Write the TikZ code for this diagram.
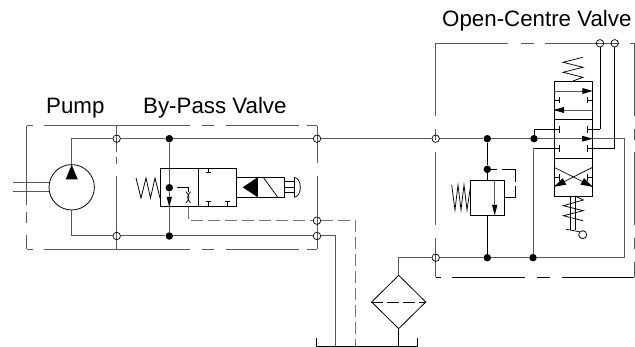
\documentclass[tikz,border=0pt]{standalone}
\usepackage{fontspec}
\setmainfont{Liberation Sans}
\usetikzlibrary{calc}
\usetikzlibrary{shapes.geometric}
\tikzset{
  mainline/.style={draw=black!65, line width=1pt},
  thinline/.style={draw=black, line width=.75pt},
  boxline/.style={draw=black!65, line width=.85pt},
  pilot/.style={draw=black!55, line width=1pt},
  juncdot/.style={circle, fill=black, inner sep=0pt, minimum size=7.5pt},
  portring/.style={circle, draw=black, line width=.7pt, inner sep=0pt, minimum size=7.5pt},
  title/.style={font=\fontsize{22.3}{25}\selectfont, inner sep=0pt, anchor=base west}
}
\newcommand{\sealport}[2]{\draw[thinline] (#1)--++(#2) ++(0,-3.3)--++(0,6.6);}
\newcommand{\sealportv}[2]{\draw[thinline] (#1)--++(#2) ++(-2.7,0)--++(5.4,0);}
\begin{document}
\begin{tikzpicture}[x=1pt,y=-1pt]
\useasboundingbox (0,0) rectangle (635,347);

\coordinate (PC) at (71.7,187.3);
\coordinate (T1) at (71.7,138.7);
\coordinate (T2) at (71.7,236);
\coordinate (R1) at (624.3,138.7);
\coordinate (R2) at (624.3,257.7);
\coordinate (F1) at (398.7,257.7);
\coordinate (FT) at (398.7,346);
\coordinate (D1) at (335.7,236);
\coordinate (D2) at (335.7,346);
\coordinate (P1) at (188.3,206.7);
\coordinate (P2) at (188.3,220.7);
\coordinate (P3) at (355.7,220.7);
\coordinate (P4) at (355.7,346);

% dashed outlines
\foreach \xa/\xb in {27/33,44/190,202/214,226/299,307/317}{
  \draw[boxline] (\xa,125.7)--(\xb,125.7);
  \draw[boxline] (\xa,249)--(\xb,249);
}
\foreach \ya/\yb in {125.7/205,212/223,235/249}
  \draw[boxline] (26.7,\ya)--(26.7,\yb);
\foreach \ya/\yb in {125.7/152,157/164,176/249}
  \draw[boxline] (116.7,\ya)--(116.7,\yb);
\foreach \ya/\yb in {125.7/163,176/249}
  \draw[boxline] (317,\ya)--(317,\yb);
\foreach \ya/\yb in {43.3/116,129/140,152/225,238/277}
  \draw[boxline] (435.7,\ya)--(435.7,\yb);
\foreach \ya/\yb in {43.3/116,129/140,152/225,238/249,262/277}
  \draw[boxline] (634.3,\ya)--(634.3,\yb);
\foreach \xa/\xb in {435.7/508,521/534,545/619,630/634}
  \draw[boxline] (\xa,43.3)--(\xb,43.3);
\foreach \xa/\xb in {435.7/441,452/525,537/550,562/634}
  \draw[thinline] (\xa,277)--(\xb,277);

% junctions and ports
\node[juncdot] (J1) at (169.3,138.7) {};
\node[juncdot] (J2) at (169.3,236) {};
\node[juncdot] (J3) at (169.3,187.7) {};
\node[juncdot] (J4) at (487.3,138.7) {};
\node[juncdot] (J5) at (487.3,169.3) {};
\node[juncdot] (J6) at (487.3,257.7) {};
\node[juncdot] (J7) at (534,138.7) {};
\node[juncdot] (J8) at (533,257.7) {};
\node[portring] (O1) at (116.7,138.7) {};
\node[portring] (O2) at (116.7,236) {};
\node[portring] (O3) at (317,138.7) {};
\node[portring] (O4) at (317,220.7) {};
\node[portring] (O5) at (317,236) {};
\node[portring] (O6) at (435.7,138.7) {};
\node[portring] (O7) at (435.7,257.7) {};
\node[portring] (O8) at (600,43.3) {};
\node[portring] (O9) at (614.7,43.3) {};

% pump
\node[circle, draw=black, line width=.8pt, inner sep=0pt, minimum size=45.4pt] (PU) at (PC) {};
\draw[mainline] (PU.north)--(T1)--(O1)--(J1)--(O3)--(O6)--(J4)--(J7);
\draw[mainline] (PU.south)--(T2)--(O2)--(J2)--(O5)--(D1)--(D2);
\fill (71.7,164.7)--(77.7,179.3)--(65.7,179.3)--cycle;
\draw[mainline] (13,182.7)--(49,182.7);
\draw[mainline] (13,191.7)--(49,191.7);

% by-pass valve
\draw[mainline] (J1)--(J3)--(J2);
\draw[thinline] (160,168.3) rectangle (236.7,206.7);
\draw[thinline] (198.3,168.3)--(198.3,206.7);
\draw[thinline] (136,178)--(141,198)--(146,178)--(150.5,198)--(155,178)--(160,198);
\fill (169.3,207)--(166.6,197)--(172,197)--cycle;
\draw[thinline] (176.7,187.7)--(188.3,187.7)--(188.3,191.7);
\draw[thinline] (186,191.7) .. controls (190,196) and (190,199) .. (186,203);
\draw[thinline] (190.6,191.7) .. controls (186.6,196) and (186.6,199) .. (190.6,203);
\sealportv{208.3,168.3}{0,4}
\sealportv{208.3,206.7}{0,-5}
\sealportv{227.3,206.7}{0,-5}
\draw[pilot, dash pattern=on 12pt off 5pt] (P1)--(P2)--(O4)--(P3)--(P4);

% solenoid and button
\draw[thinline] (236.7,177.3) rectangle (284.3,197.3);
\draw[thinline] (257.7,177.3)--(257.7,197.3);
\fill (242.7,187.3)--(257.7,177.3)--(257.7,197.3)--cycle;
\draw[thinline] (263.3,177.3)--(277.7,197.3);
\draw[thinline] (284.3,181.7)--(294,181.7);
\draw[thinline] (284.3,187.3)--(294,187.3);
\draw[thinline] (284.3,192.3)--(294,192.3);
\draw[thinline] (294,177.3)--(294,197.3);
\draw[thinline] (294,177.3) .. controls (302.5,178) and (302.5,196.6) .. (294,197.3);

% filter and tank
\node[diamond, draw=black, line width=.8pt, inner sep=0pt, minimum width=54.4pt, minimum height=53.7pt] (FL) at (398.7,302) {};
\draw[thinline, dash pattern=on 12pt off 4pt] (FL.west)--(FL.east);
\draw[mainline] (FL.north)--(F1)--(O7)--(J6)--(J8)--(R2)--(R1)--(J7);
\draw[thinline] (FL.south)--(FT);
\draw[thinline] (316.7,338)--(316.7,346)--(417.7,346)--(417.7,338);

% relief valve
\draw[thinline] (J4)--(J5)--(487.3,180);
\draw[thinline] (487.3,215)--(J6);
\draw[thinline] (470.7,180) rectangle (504.3,215);
\draw[boxline] (494.7,180)--(494.7,206);
\fill (494.7,215.5)--(492,205)--(497.4,205)--cycle;
\draw[thinline] (451.7,185)--(455,210)--(458,185)--(461,210)--(464,185)--(467,210)--(470.7,185);
\draw[thinline] (J5)--(497,169.3);
\draw[thinline] (502,169.3)--(515,169.3)--(515,181.7);
\draw[thinline] (515,185.7)--(515,197.7)--(504.3,197.7);

% open-centre valve
\draw[thinline] (554,81) rectangle (592.7,196);
\draw[thinline] (554,119.3)--(592.7,119.3);
\draw[thinline] (554,158)--(592.7,158);
\draw[thinline] (583,57.3)--(563,62.3)--(583,67.3)--(563,72.3)--(583,77.3)--(573,81);
\draw[boxline] (554,91)--(584,91);
\fill (592.7,91)--(582.3,88)--(582.3,94)--cycle;
\draw[boxline] (562,110)--(592.7,110);
\fill (553.3,110)--(564,107)--(564,113)--cycle;
\sealport{554,100}{5.3,0}
\sealport{592.7,100}{-5,0}
\sealport{534,129.3}{25.3,0}
\draw[thinline] (J7)--(534,129.3);
\draw[thinline] (O8)--(600,129.3);
\sealport{600,129.3}{-12.3,0}
\draw[thinline] (O9)--(614.7,148.3);
\sealport{614.7,148.3}{-27,0}
\sealport{533,148.3}{26.3,0}
\draw[mainline] (J8)--(533,148.3);
\fill (592.7,138.7)--(582,135.7)--(582,141.7)--cycle;
\draw[thinline] (554,167.3)--(592.7,186.7);
\draw[thinline] (592.7,167.3)--(554,186.7);
\fill (592.7,186.7)--(580.5,184.7)--(584,178.2)--cycle;
\fill (554,186.7)--(566.2,184.7)--(562.7,178.2)--cycle;
\sealport{554,177.3}{5.3,0}
\sealport{592.7,177.3}{-5,0}
\draw[thinline] (575,196)--(583.3,200)--(563.3,205.7)--(583.3,210.7)--(563.3,215.7)--(583,220.7);
\draw[thinline] (570.7,196)--(570.7,230);
\draw[thinline] (575.7,196)--(575.7,230.5);
\draw[thinline] (566,229.3)--(579.3,231.7);
\node[circle, draw=black, line width=.8pt, inner sep=0pt, minimum size=8pt] (RO) at (582.7,234.7) {};

% labels
\node[title] (pumplabel) at (46,113.5) {Pump};
\node[title] (bypasslabel) at (143,113.5) {By-Pass Valve};
\node[title] (opencentrelabel) at (442,26.5) {Open-Centre Valve};
\end{tikzpicture}
\end{document}
